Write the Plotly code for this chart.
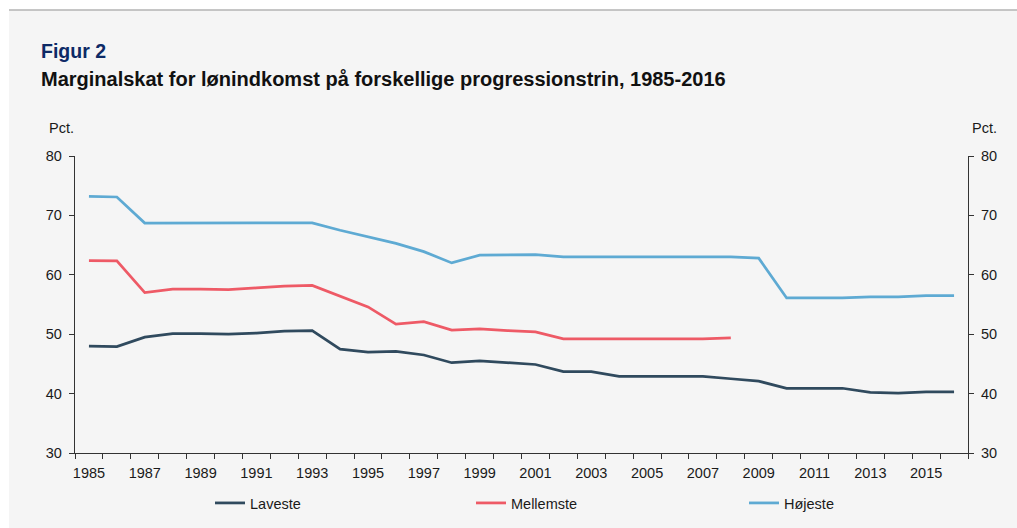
import plotly.graph_objects as go

years = list(range(1985, 2017))
laveste = [48.0, 47.9, 49.5, 50.1, 50.1, 50.0, 50.2, 50.5, 50.6, 47.5, 47.0, 47.1, 46.5, 45.2, 45.5, 45.2,
           44.9, 43.7, 43.7, 42.9, 42.9, 42.9, 42.9, 42.5, 42.1, 40.9, 40.9, 40.9, 40.2, 40.1, 40.3, 40.3]
mellemste_years = list(range(1985, 2009))
mellemste = [62.4, 62.35, 57.0, 57.6, 57.6, 57.5, 57.8, 58.1, 58.2, 56.4, 54.6, 51.7, 52.1, 50.7, 50.9, 50.6,
             50.4, 49.2, 49.2, 49.2, 49.25, 49.2, 49.2, 49.4]
hoejeste = [73.2, 73.1, 68.7, 68.7, 68.7, 68.75, 68.75, 68.75, 68.75, 67.5, 66.4, 65.3, 63.9, 62.0, 63.3, 63.35,
            63.4, 63.0, 63.0, 63.0, 63.0, 63.0, 63.0, 63.0, 62.8, 56.1, 56.1, 56.1, 56.3, 56.3, 56.5, 56.5]
tick_labels = [str(y) for y in range(1985, 2017, 2)]

W, H = 1017, 528
L, R, T, B = 75, 49, 156, 75
PW, PH = W - L - R, H - T - B

def px(x):
    return (x - L) / PW

def py(y):
    return (H - B - y) / PH

FONT = "Liberation Sans, Arial, sans-serif"
AX = "#333333"

fig = go.Figure()
fig.add_trace(go.Scatter(x=years, y=laveste, name="Laveste", mode="lines", legend="legend",
                         line=dict(color="#304a5e", width=2.75)))
fig.add_trace(go.Scatter(x=mellemste_years, y=mellemste, name="Mellemste", mode="lines", legend="legend2",
                         line=dict(color="#ee5a66", width=2.75)))
fig.add_trace(go.Scatter(x=years, y=hoejeste, name="Højeste", mode="lines", yaxis="y2", legend="legend3",
                         line=dict(color="#5eaad3", width=2.75)))

boundaries = [y - 0.5 for y in years] + [years[-1] + 0.5]

def leg(xpix):
    return dict(orientation="h", x=px(xpix), xanchor="left", y=py(503), yanchor="middle",
                bgcolor="rgba(0,0,0,0)", font=dict(size=14.5), borderwidth=0)

yax = dict(range=[30, 80], dtick=10, tick0=30, ticks="outside", ticklen=5,
           tickwidth=1.3, tickcolor=AX, showline=True, linecolor=AX, linewidth=1.3,
           showgrid=False, zeroline=False, ticklabelstandoff=4)

fig.update_layout(
    width=W, height=H,
    margin=dict(l=L, r=R, t=T, b=B, pad=0, autoexpand=False),
    paper_bgcolor="white",
    plot_bgcolor="rgba(0,0,0,0)",
    font=dict(family=FONT, size=14.5, color="#1a1a1a"),
    xaxis=dict(range=[years[0] - 0.5, years[-1] + 0.5], tickmode="array",
               tickvals=[int(t) for t in tick_labels], ticktext=tick_labels,
               ticks="", showgrid=False, zeroline=False, showline=True,
               linecolor=AX, linewidth=1.3, ticklabelstandoff=6,
               tickfont=dict(size=14.5),
               minor=dict(ticks="outside", tickmode="array", tickvals=boundaries,
                          ticklen=5, tickwidth=1.3, tickcolor=AX, showgrid=False)),
    yaxis=yax,
    yaxis2=dict(yax, overlaying="y", side="right"),
    showlegend=True,
    legend=leg(210),
    legend2=leg(471),
    legend3=leg(744),
    shapes=[
        dict(type="rect", xref="paper", yref="paper", x0=px(9), x1=px(W + 5),
             y0=py(H + 5), y1=py(10), fillcolor="#f5f5f5", line=dict(width=0), layer="below"),
        dict(type="line", xref="paper", yref="paper", x0=px(9), x1=px(W + 5),
             y0=py(10), y1=py(10), line=dict(color="#b3b3b3", width=1.5), layer="below"),
    ],
    annotations=[
        dict(text="<b>Figur 2</b>", xref="paper", yref="paper", x=px(39), y=py(51),
             xanchor="left", yanchor="middle", showarrow=False,
             font=dict(size=19.5, color="#0d2a66", family=FONT)),
        dict(text="<b>Marginalskat for lønindkomst på forskellige progressionstrin, 1985-2016</b>",
             xref="paper", yref="paper", x=px(39), y=py(79), xanchor="left", yanchor="middle",
             showarrow=False, font=dict(size=20, color="#111111", family=FONT)),
        dict(text="Pct.", xref="paper", yref="paper", x=px(47), y=py(128), xanchor="left",
             yanchor="middle", showarrow=False, font=dict(size=14.5)),
        dict(text="Pct.", xref="paper", yref="paper", x=px(970), y=py(128), xanchor="left",
             yanchor="middle", showarrow=False, font=dict(size=14.5)),
    ],
)

fig.write_html("out.html", config={"displayModeBar": False},
               post_script="document.body.style.margin='0';document.body.style.overflow='hidden';")
